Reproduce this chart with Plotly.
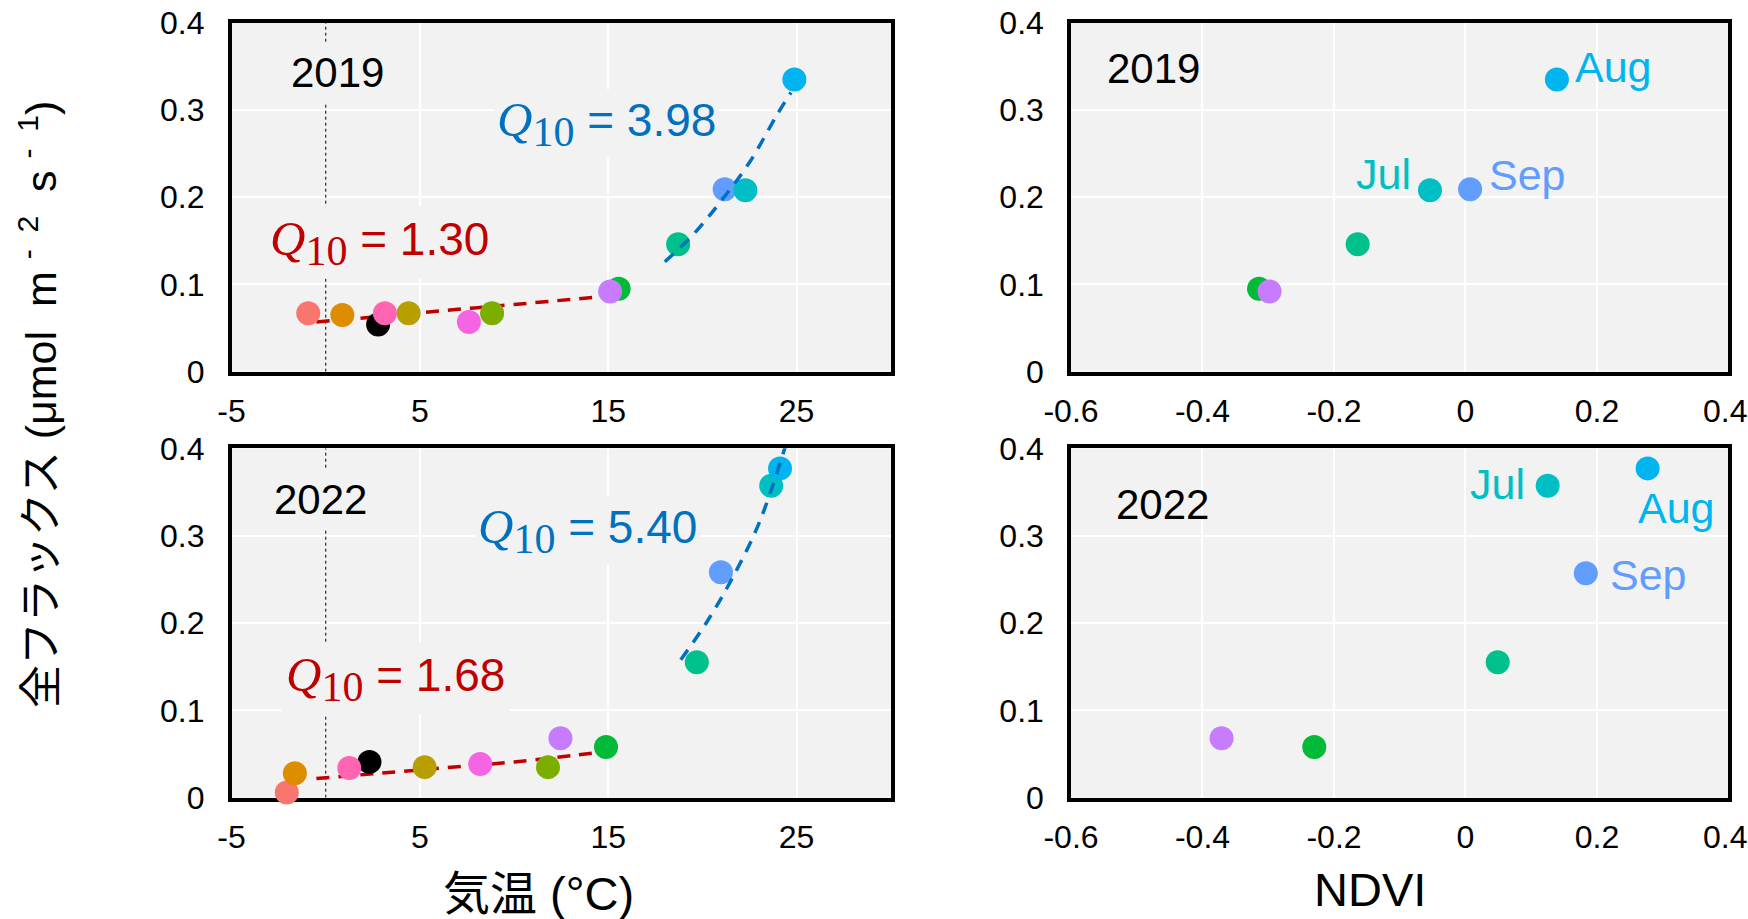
import plotly.graph_objects as go

# ---------------- data ----------------
months = ["Jan", "Feb", "Mar", "Apr", "May", "Jun", "Jul", "Aug", "Sep", "Oct", "Nov", "Dec", "Other"]
month_colors = ["#F8766D", "#DE8C00", "#B79F00", "#7CAE00", "#00BA38", "#00C08B",
                "#00BFC4", "#00B4F0", "#619CFF", "#C77CFF", "#F564E3", "#FF64B0", "#000000"]
draw_order = ["Other", "Jan", "Feb", "Mar", "Apr", "May", "Jun", "Sep", "Jul", "Aug", "Oct", "Nov", "Dec"]

temp_2019 = [-0.93, 0.88, 4.40, 8.83, 15.55, 18.71, 22.28, 24.88, 21.18, 15.10, 7.60, 3.14, 2.78]
flux_2019 = [0.067, 0.065, 0.067, 0.067, 0.095, 0.146, 0.208, 0.335, 0.209, 0.092, 0.057, 0.067, 0.054]
temp_2022 = [-2.07, -1.64, 5.25, 11.80, 14.88, 19.70, 23.65, 24.12, 20.98, 12.46, 8.20, 1.25, 2.32]
flux_2022 = [0.006, 0.028, 0.035, 0.035, 0.058, 0.155, 0.357, 0.377, 0.258, 0.068, 0.0385, 0.034, 0.041]

ndvi_months = ["May", "Jun", "Jul", "Aug", "Sep", "Oct"]
ndvi_order = ["May", "Jun", "Sep", "Jul", "Aug", "Oct"]
ndvi_2019 = [-0.314, -0.164, -0.054, 0.139, 0.007, -0.298]
ndvi_flux_2019 = [0.095, 0.146, 0.208, 0.335, 0.209, 0.092]
ndvi_2022 = [-0.230, 0.049, 0.125, 0.277, 0.183, -0.371]
ndvi_flux_2022 = [0.058, 0.155, 0.357, 0.377, 0.257, 0.068]

# Q10 fit lines
fit_low_2019_x = [-0.5, 3.0, 6.6, 10.0, 14.6]
fit_low_2019_y = [0.057, 0.0635, 0.0707, 0.077, 0.086]
fit_high_2019_x = [18.0, 19.5, 21.0, 22.5, 24.0, 24.7]
fit_high_2019_y = [0.126, 0.157, 0.196, 0.240, 0.296, 0.320]
fit_low_2022_x = [-0.5, 4.0, 7.0, 10.0, 13.0, 14.5]
fit_low_2022_y = [0.022, 0.030, 0.0355, 0.041, 0.048, 0.052]
fit_high_2022_x = [18.85, 20.2, 21.6, 23.0, 24.4]
fit_high_2022_y = [0.158, 0.200, 0.252, 0.314, 0.402]

q10_labels = ["1.30", "3.98", "1.68", "5.40"]

x_temp_ticks = [-5, 5, 15, 25]
x_ndvi_ticks = [-0.6, -0.4, -0.2, 0, 0.2, 0.4]
x_ndvi_text = ["-0.6", "-0.4", "-0.2", "0", "0.2", "0.4"]
y_ticks = [0, 0.1, 0.2, 0.3, 0.4]
y_text = ["0", "0.1", "0.2", "0.3", "0.4"]

RED = "#C00000"
BLUE = "#0070C0"
BG = "#F2F2F2"
SANS = "Liberation Sans, Arial, Noto Sans CJK JP"
TICK_SIZE = 32

fig = go.Figure()

def add_line(xs, ys, color, xa, ya, dash):
    fig.add_trace(go.Scatter(x=xs, y=ys, mode="lines", xaxis=xa, yaxis=ya,
                             line=dict(color=color, width=3.5, dash=dash, shape="spline"),
                             hoverinfo="skip", showlegend=False))

def add_points(names, xs, ys, order, xa, ya):
    for m in order:
        if m not in names:
            continue
        i = names.index(m)
        c = month_colors[months.index(m)]
        fig.add_trace(go.Scatter(x=[xs[i]], y=[ys[i]], mode="markers", xaxis=xa, yaxis=ya,
                                 marker=dict(size=24, color=c, line=dict(width=0)),
                                 cliponaxis=False, name=m, showlegend=False))

# top-left (2019 temperature)
add_line(fit_low_2019_x, fit_low_2019_y, RED, "x", "y", "13px,9px")
add_points(months, temp_2019, flux_2019, draw_order, "x", "y")
add_line(fit_high_2019_x, fit_high_2019_y, BLUE, "x", "y", "12px,9px")
# bottom-left (2022 temperature)
add_line(fit_low_2022_x, fit_low_2022_y, RED, "x3", "y3", "13px,9px")
add_points(months, temp_2022, flux_2022, draw_order, "x3", "y3")
add_line(fit_high_2022_x, fit_high_2022_y, BLUE, "x3", "y3", "12px,9px")
# right panels (NDVI)
add_points(ndvi_months, ndvi_2019, ndvi_flux_2019, ndvi_order, "x2", "y2")
add_points(ndvi_months, ndvi_2022, ndvi_flux_2022, ndvi_order, "x4", "y4")

# ---------------- axes ----------------
XL = [0.13249, 0.50961]
XR = [0.61270, 0.98884]
YT = [0.59554, 0.97530]
YB = [0.13199, 0.51219]

common = dict(showline=True, mirror=True, linecolor="black", linewidth=3.5,
              showgrid=True, gridcolor="white", gridwidth=2, zeroline=False,
              ticks="", tickfont=dict(family=SANS, size=TICK_SIZE, color="black"),
              layer="below traces", automargin=False)

def xa(domain, anchor, rng, tv, tt):
    d = dict(common)
    d.update(domain=domain, anchor=anchor, range=rng, tickvals=tv, ticktext=tt,
             ticklabelstandoff=8)
    return d

def ya(domain, anchor):
    d = dict(common)
    d.update(domain=domain, anchor=anchor, range=[0, 0.4], tickvals=y_ticks, ticktext=y_text,
             ticklabelstandoff=17)
    return d

temp_text = [str(v) for v in x_temp_ticks]
# the last NDVI tick label sits at the page edge; it is drawn as a right-aligned annotation below
ndvi_text_axis = x_ndvi_text[:-1] + [""]
fig.update_layout(
    xaxis=xa(XL, "y", [-5, 30], x_temp_ticks, temp_text),
    yaxis=ya(YT, "x"),
    xaxis2=xa(XR, "y2", [-0.6, 0.4], x_ndvi_ticks, ndvi_text_axis),
    yaxis2=ya(YT, "x2"),
    xaxis3=xa(XL, "y3", [-5, 30], x_temp_ticks, temp_text),
    yaxis3=ya(YB, "x3"),
    xaxis4=xa(XR, "y4", [-0.6, 0.4], x_ndvi_ticks, ndvi_text_axis),
    yaxis4=ya(YB, "x4"),
)

# dotted 0 degC lines
for xr, yr in (("x", "y"), ("x3", "y3")):
    fig.add_shape(type="line", xref=xr, yref=yr, x0=0, x1=0, y0=0, y1=0.4,
                  line=dict(color="black", width=1, dash="dot"), layer="between")

ann = []
def text(xr, yr, x, y, t, size, color="black", xanchor="left", bg=None, pad=1):
    a = dict(xref=xr, yref=yr, x=x, y=y, text=t, showarrow=False, xanchor=xanchor,
             yanchor="middle", font=dict(family=SANS, size=size, color=color), borderpad=pad)
    if bg:
        a["bgcolor"] = bg
    ann.append(a)

# edge tick labels of NDVI axes
for ypix in (411, 837):
    ann.append(dict(xref="paper", yref="paper", x=1.0, y=1 - ypix / 919, text=x_ndvi_text[-1],
                    showarrow=False, xanchor="right", yanchor="middle", borderpad=0,
                    font=dict(family=SANS, size=TICK_SIZE, color="black")))

# year labels
text("x", "y", -2.22, 0.343, "2019", 42, bg=BG, pad=6)
text("x3", "y3", -3.12, 0.341, "2022", 42, bg=BG, pad=6)
text("x2", "y2", -0.549, 0.348, "2019", 42)
text("x4", "y4", -0.534, 0.336, "2022", 42)

def q10(v):
    return ("<span style='font-family:Liberation Serif;font-size:49px'><i>Q</i></span>"
            "<sub><span style='font-family:Liberation Serif;font-size:42px'>10</span></sub>"
            " = " + v)

text("x", "y", -3.25, 0.148, q10(q10_labels[0]), 46, RED, bg=BG, pad=4)
text("x", "y", 8.91, 0.285, q10(q10_labels[1]), 46, BLUE, bg=BG, pad=2)
text("x3", "y3", -2.36, 0.136, q10(q10_labels[2]), 46, RED, bg=BG, pad=4)
text("x3", "y3", 7.91, 0.306, q10(q10_labels[3]), 46, BLUE, bg=BG, pad=2)

# month labels on NDVI panels
text("x2", "y2", 0.164, 0.349, "Aug", 43, "#00B4F0")
text("x2", "y2", -0.080, 0.227, "Jul", 43, "#00BFC4", xanchor="right")
text("x2", "y2", 0.032, 0.225, "Sep", 43, "#619CFF")
text("x4", "y4", 0.094, 0.359, "Jul", 43, "#00BFC4", xanchor="right")
text("x4", "y4", 0.259, 0.332, "Aug", 43, "#00B4F0")
text("x4", "y4", 0.216, 0.255, "Sep", 43, "#619CFF")

# axis titles
ann.append(dict(xref="paper", yref="paper", x=538 / 1748, y=1 - 893 / 919, text="気温 (°C)",
                showarrow=False, xanchor="center", yanchor="middle",
                font=dict(family=SANS, size=47, color="black")))
ann.append(dict(xref="paper", yref="paper", x=1370 / 1748, y=1 - 889 / 919, text="NDVI",
                showarrow=False, xanchor="center", yanchor="middle",
                font=dict(family=SANS, size=47, color="black")))
ann.append(dict(xref="paper", yref="paper", x=38 / 1748, y=1 - 405 / 919,
                text="全フラックス (μmol  m <sup>-  2</sup>  s <sup>-  1</sup>)",
                showarrow=False, xanchor="center", yanchor="middle", textangle=-90,
                font=dict(family=SANS, size=43, color="black")))

fig.update_layout(annotations=ann, width=1748, height=919,
                  margin=dict(l=0, r=0, t=0, b=0, autoexpand=False),
                  paper_bgcolor="white", plot_bgcolor=BG, showlegend=False)

fig.write_html("out.html")
